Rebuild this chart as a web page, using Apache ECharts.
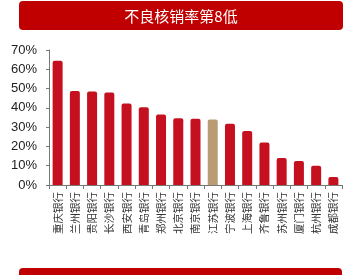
<!DOCTYPE html>
<html><head><meta charset="utf-8">
<script src="https://cdn.jsdelivr.net/npm/echarts@6/dist/echarts.min.js"></script>
<style>html,body{margin:0;padding:0;background:#fff}#c{width:360px;height:275px}</style>
</head><body><div id="c"></div>
<script>
var titleText = '不良核销率第8低';
var categories = ['重庆银行','兰州银行','贵阳银行','长沙银行','西安银行','青岛银行','郑州银行','北京银行','南京银行','江苏银行','宁波银行','上海银行','齐鲁银行','苏州银行','厦门银行','杭州银行','成都银行'];
var values = [64.4, 48.7, 48.5, 48.0, 42.3, 40.3, 36.6, 34.6, 34.4, 34.0, 31.8, 28.0, 22.1, 14.0, 12.4, 10.0, 4.1];
var highlight = '江苏银行';
var yTicks = [0, 10, 20, 30, 40, 50, 60, 70];

var RED = '#C5101F', TAN = '#B99C74';
var chart = echarts.init(document.getElementById('c'), null, {renderer: 'canvas'});
chart.setOption({
  animation: false,
  grid: {left: 49, right: 18, top: 50, bottom: 90},
  graphic: [
    {type: 'rect', shape: {x: 19, y: 1, width: 324, height: 29, r: 4}, style: {fill: '#C00000'}},
    {type: 'text', x: 181, y: 16, style: {text: titleText, fill: '#fff', font: '15px "Noto Sans CJK SC"', align: 'center', verticalAlign: 'middle'}},
    {type: 'rect', shape: {x: 19, y: 268, width: 323, height: 14, r: 4}, style: {fill: '#C00000'}}
  ],
  xAxis: {
    type: 'category', data: categories,
    axisLine: {lineStyle: {color: '#777', width: 1}},
    axisTick: {show: true, length: 4, lineStyle: {color: '#777'}},
    axisLabel: {rotate: 90, interval: 0, color: '#333', fontSize: 10.5, fontFamily: 'Noto Sans CJK SC', margin: 7}
  },
  yAxis: {
    type: 'value', min: yTicks[0], max: yTicks[yTicks.length - 1], interval: 10,
    axisLine: {show: true, lineStyle: {color: '#777'}},
    axisTick: {show: true, length: 3, lineStyle: {color: '#777'}},
    splitLine: {show: false},
    axisLabel: {formatter: '{value}%', color: '#222', fontSize: 13, fontFamily: 'Liberation Sans', margin: 12}
  },
  series: [{
    type: 'bar', barWidth: 10,
    data: values.map(function (v, i) {
      return {value: v, itemStyle: {color: categories[i] === highlight ? TAN : RED}};
    }),
    itemStyle: {borderRadius: [2, 2, 0, 0]}
  }]
});
</script></body></html>
